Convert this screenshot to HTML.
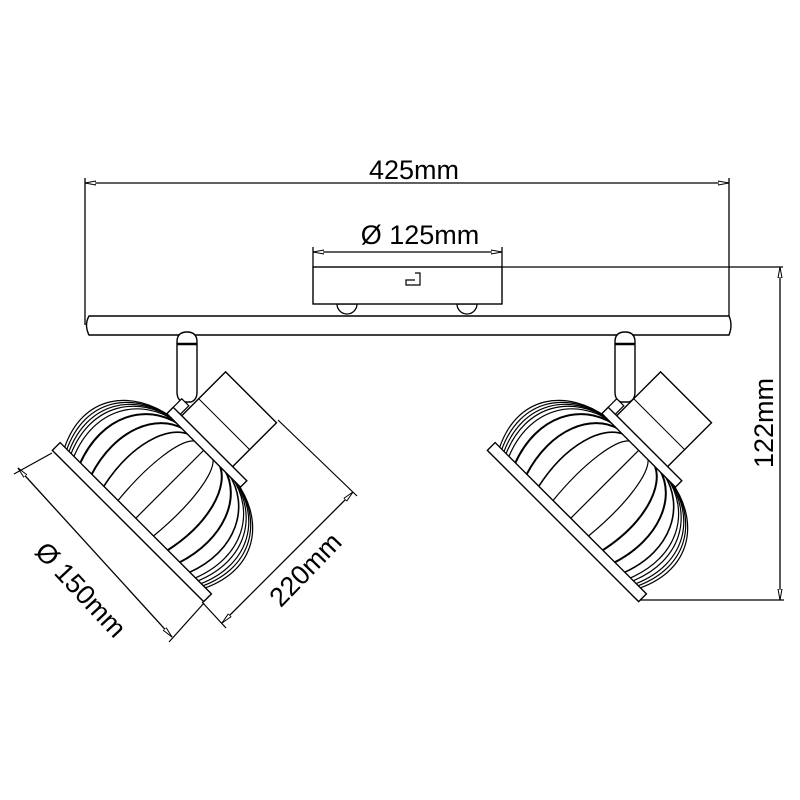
<!DOCTYPE html>
<html><head><meta charset="utf-8"><style>
html,body{margin:0;padding:0;background:#fff;}
svg{display:block;}
text{font-family:"Liberation Sans",Arial,sans-serif;fill:#000;}
</style></head><body>
<svg width="800" height="800" viewBox="0 0 800 800" xmlns="http://www.w3.org/2000/svg">
<defs>
<marker id="a" markerWidth="12" markerHeight="6" refX="11" refY="3" orient="auto-start-reverse" markerUnits="userSpaceOnUse">
<path d="M0,1 L11,3 L0,5 Z" fill="#fff" stroke="#000" stroke-width="1"/>
</marker>
<g id="lamp" fill="none" stroke="#000" stroke-width="1.4">
  <g stroke-width="1.2">
    <path d="M-100,-10 C-125,-60 -95,-100 -45,-108"/>
    <path d="M-97,-10 C-121,-60 -92,-100 -44,-108"/>
    <path d="M-94,-10 C-117,-60 -89,-100 -43,-108"/>
    <path d="M-91,-10 C-113,-60 -86,-100 -42,-108"/>
    <path d="M-87,-10 C-108,-60 -82,-100 -40,-108"/>
    <path d="M-78,-10 C-97,-60 -74,-100 -36,-108" stroke-width="2"/>
    <path d="M-62,-10 C-78,-60 -59,-100 -29,-108" stroke-width="2"/>
    <path d="M-45,-10 C-56,-60 -43,-100 -21,-108" stroke-width="1.6"/>
    <path d="M-25,-10 C-30,-60 -24,-100 -12,-108"/>
    <path d="M0,-10 L0,-108"/>
    <path d="M25,-10 C30,-60 24,-100 12,-108"/>
    <path d="M45,-10 C56,-60 43,-100 21,-108" stroke-width="2"/>
    <path d="M62,-10 C78,-60 59,-100 29,-108" stroke-width="2"/>
    <path d="M76,-10 C95,-60 72,-100 35,-108" stroke-width="1.6"/>
    <path d="M84,-10 C104,-60 80,-100 39,-108"/>
    <path d="M88,-10 C109,-60 84,-100 41,-108"/>
    <path d="M92,-10 C114,-60 88,-100 43,-108"/>
    <path d="M95,-10 C118,-60 91,-100 44,-108"/>
    <path d="M98,-10 C122,-60 94,-100 45,-108"/>
  </g>
  <rect x="-107" y="-11" width="214" height="11" fill="#fff"/>
  <rect x="-40" y="-178" width="72" height="64" fill="#fff"/>
  <line x1="-40" y1="-140" x2="32" y2="-140" stroke-width="1"/>
  <rect x="-52" y="-116" width="104" height="9" fill="#fff"/>
  <rect x="-52" y="-128" width="10" height="12" fill="#fff" stroke-width="1.2"/>
</g>
<g id="stem" fill="#fff" stroke="#000" stroke-width="1.4">
  <path d="M0,12 Q0,2 10,2 Q20,2 20,12 L20,62 Q20,70 14,72 L6,72 Q0,70 0,62 Z"/>
  <line x1="0" y1="14" x2="20" y2="14" stroke-width="2.5"/>
</g>
</defs>

<line x1="85" y1="183" x2="729" y2="183" stroke="#000" stroke-width="1.3" marker-start="url(#a)" marker-end="url(#a)" />
<line x1="85" y1="178" x2="85" y2="325" stroke="#000" stroke-width="1.3"/>
<line x1="729" y1="178" x2="729" y2="325" stroke="#000" stroke-width="1.3"/>
<text x="414" y="179" font-size="27" text-anchor="middle">425mm</text>

<line x1="313" y1="252" x2="502" y2="252" stroke="#000" stroke-width="1.3" marker-start="url(#a)" marker-end="url(#a)"/>
<line x1="313" y1="247" x2="313" y2="267" stroke="#000" stroke-width="1.3"/>
<line x1="502" y1="247" x2="502" y2="267" stroke="#000" stroke-width="1.3"/>
<text x="420" y="244" font-size="27" text-anchor="middle">Ø 125mm</text>

<path d="M337,304 A10,10 0 0 0 357,304 Z M457,304 A10,10 0 0 0 477,304 Z" fill="#fff" stroke="#000" stroke-width="1.3"/>
<rect x="313" y="267" width="189" height="37" fill="#fff" stroke="#000" stroke-width="1.4"/>
<path d="M415,273 L420,273 L420,285 L406,285 L406,280 L415,280" fill="none" stroke="#000" stroke-width="1.2"/>
<line x1="502" y1="267" x2="783" y2="267" stroke="#000" stroke-width="1.3"/>

<path d="M89,316 L729,316 Q733,325 729,335 L89,335 Q84,325 89,316 Z" fill="#fff" stroke="#000" stroke-width="1.4"/>

<line x1="780" y1="267" x2="780" y2="600" stroke="#000" stroke-width="1.3" marker-start="url(#a)" marker-end="url(#a)"/>
<line x1="637" y1="600" x2="784" y2="600" stroke="#000" stroke-width="1.3"/>
<text transform="translate(773,423) rotate(-90)" font-size="27" text-anchor="middle">122mm</text>

<use href="#stem" x="177" y="330"/>
<use href="#stem" x="615" y="330"/>

<use href="#lamp" transform="translate(128,526) rotate(45)"/>
<use href="#lamp" transform="translate(563,526) rotate(45)"/>

<line x1="18" y1="468" x2="172" y2="637" stroke="#000" stroke-width="1.3" marker-start="url(#a)" marker-end="url(#a)"/>
<line x1="14" y1="474" x2="52" y2="453" stroke="#000" stroke-width="1.2"/>
<line x1="169" y1="642" x2="204" y2="603" stroke="#000" stroke-width="1.2"/>
<text transform="translate(74,596) rotate(47)" font-size="27" text-anchor="middle">Ø 150mm</text>

<line x1="222" y1="623" x2="353" y2="492" stroke="#000" stroke-width="1.3" marker-start="url(#a)" marker-end="url(#a)"/>
<line x1="202" y1="602" x2="226" y2="628" stroke="#000" stroke-width="1.2"/>
<line x1="278" y1="420" x2="357" y2="496" stroke="#000" stroke-width="1.2"/>
<text transform="translate(312,576) rotate(-46)" font-size="27" text-anchor="middle">220mm</text>
</svg>
</body></html>
